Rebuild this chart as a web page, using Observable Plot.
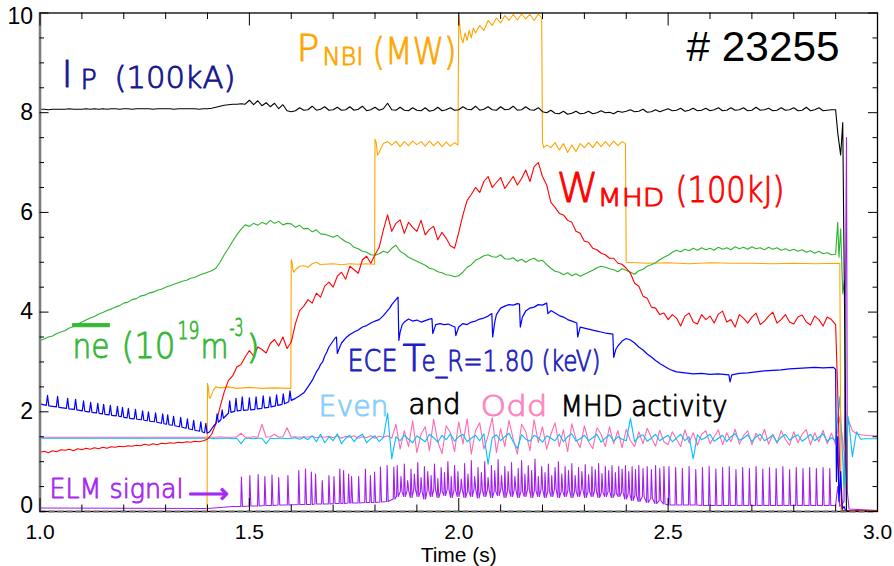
<!DOCTYPE html>
<html><head><meta charset="utf-8">
<script src="https://cdn.jsdelivr.net/npm/d3@7"></script>
<script src="https://cdn.jsdelivr.net/npm/@observablehq/plot@0.6"></script>
<style>body{margin:0;background:#fff}</style>
</head><body><div id="chart"></div>
<script>
// ---------- data ----------
const xMajor = [1.0, 1.5, 2.0, 2.5, 3.0];
const xMinor = [1.1,1.2,1.3,1.4,1.6,1.7,1.8,1.9,2.1,2.2,2.3,2.4,2.6,2.7,2.8,2.9];
const yMajor = [0, 2, 4, 6, 8, 10];
const yMinor = [0.5,1,1.5,2.5,3,3.5,4.5,5,5.5,6.5,7,7.5,8.5,9,9.5];

// signals sampled every 0.01 s starting at 1.00 s
const ipVals = [
8.07,8.07,8.06,8.07,8.07,8.07,8.07,8.08,8.07,8.07,
8.07,8.08,8.07,8.08,8.07,8.08,8.07,8.08,8.08,8.07,
8.08,8.08,8.07,8.08,8.08,8.08,8.08,8.07,8.08,8.08,
8.08,8.08,8.07,8.08,8.08,8.08,8.08,8.08,8.07,8.08,
8.08,8.09,8.11,8.13,8.15,8.16,8.17,8.17,8.18,8.17,
8.25,8.16,8.24,8.14,8.20,8.12,8.19,8.08,8.16,8.04,
8.02,8.04,8.10,8.05,8.06,8.13,8.05,8.07,8.12,8.05,
8.06,8.11,8.05,8.06,8.12,8.05,8.07,8.13,8.04,8.06,
8.11,8.05,8.08,8.19,8.06,8.05,8.11,8.05,8.04,8.10,
8.05,8.04,8.10,8.03,8.05,8.11,8.04,8.06,8.10,8.05,
8.06,8.12,8.07,8.06,8.13,8.05,8.07,8.12,8.06,8.05,
8.12,8.06,8.07,8.13,8.05,8.06,8.12,8.06,8.05,8.10,
8.02,8.00,8.05,7.99,7.98,8.03,7.97,7.99,8.03,7.98,
7.99,8.03,7.98,8.00,8.04,8.00,8.01,7.98,8.03,8.01,
8.03,8.06,8.02,8.03,8.07,8.01,8.02,8.06,8.02,8.05,
8.08,8.04,8.05,8.09,8.03,8.05,8.09,8.04,8.05,8.09,
8.04,8.06,8.10,8.04,8.05,8.10,8.05,8.06,8.10,8.04,
8.05,8.11,8.05,8.06,8.09,8.04,8.05,8.10,8.05,8.06,
8.10,8.04,8.05,8.11,8.04,8.06,8.10,8.04,8.05,8.06,
8.06];
const ipTailT = [2.905, 2.912, 2.917, 2.926, 3.0];
const ipTailV = [7.6, 7.15, 7.8, 0.0, 0.0];

const wmhdVals = [
1.19,1.21,1.18,1.22,1.20,1.24,1.23,1.25,1.22,1.26,
1.24,1.27,1.25,1.28,1.26,1.29,1.27,1.30,1.29,1.31,
1.30,1.32,1.31,1.33,1.32,1.35,1.33,1.36,1.34,1.37,
1.36,1.38,1.37,1.39,1.38,1.40,1.39,1.41,1.40,1.42,
1.45,1.55,1.76,2.10,2.40,2.63,2.72,2.90,2.95,3.10,
3.23,3.12,3.30,3.25,3.18,3.37,3.45,3.32,3.50,3.27,
3.40,3.77,4.03,4.12,4.25,4.18,4.38,4.30,4.52,4.60,
4.50,4.72,4.80,4.66,4.92,4.85,4.78,5.05,5.12,4.98,
5.15,5.30,5.65,5.95,5.62,5.78,5.85,5.58,5.80,5.70,
5.62,5.84,5.55,5.66,5.72,5.45,5.60,5.48,5.33,5.28,
5.60,5.95,6.24,6.36,6.50,6.40,6.62,6.72,6.50,6.60,
6.70,6.48,6.60,6.72,6.55,6.68,6.85,6.62,6.92,7.00,
6.72,6.55,6.20,6.10,5.98,5.95,5.84,5.80,5.62,5.58,
5.42,5.40,5.28,5.25,5.18,5.15,5.08,5.08,4.98,4.96,
4.88,4.78,4.58,4.52,4.32,4.28,4.10,4.08,3.95,3.98,
3.85,3.95,3.88,3.72,3.92,3.98,3.80,3.76,3.95,3.85,
3.92,3.78,3.96,4.02,3.80,3.85,3.70,3.95,3.88,3.78,
3.90,3.98,3.75,3.82,3.92,4.00,3.78,3.85,3.95,3.80,
3.76,3.90,3.94,3.80,3.74,3.92,3.85,3.72,3.90,3.85,
3.75];
const wmhdTailT = [2.905, 2.910, 2.916, 3.0];
const wmhdTailV = [2.4, 0.8, 0.02, 0.02];

const neVals = [
3.43,3.46,3.50,3.52,3.57,3.60,3.63,3.68,3.71,3.76,
3.80,3.84,3.88,3.91,3.96,3.99,4.03,4.06,4.10,4.13,
4.18,4.20,4.25,4.27,4.32,4.34,4.38,4.40,4.44,4.46,
4.50,4.53,4.56,4.59,4.62,4.64,4.68,4.70,4.74,4.77,
4.80,4.83,4.88,5.00,5.15,5.28,5.42,5.55,5.66,5.75,
5.72,5.78,5.74,5.80,5.76,5.84,5.78,5.82,5.75,5.78,
5.77,5.70,5.74,5.67,5.68,5.61,5.65,5.57,5.56,5.53,
5.50,5.54,5.47,5.41,5.38,5.30,5.27,5.22,5.20,5.15,
5.14,5.17,5.22,5.19,5.28,5.34,5.22,5.17,5.10,5.06,
5.02,4.98,4.94,4.88,4.86,4.81,4.79,4.75,4.74,4.71,
4.73,4.80,4.90,4.95,5.04,5.08,5.13,5.15,5.11,5.10,
5.15,5.07,5.06,5.09,5.02,5.06,5.00,5.05,5.08,5.02,
5.04,4.95,4.88,4.82,4.80,4.75,4.79,4.73,4.77,4.72,
4.76,4.80,4.84,4.89,4.92,4.90,4.87,4.85,4.81,4.87,
4.84,4.80,4.76,4.83,4.86,4.92,4.95,4.99,5.05,5.10,
5.14,5.20,5.24,5.21,5.26,5.23,5.28,5.24,5.29,5.25,
5.28,5.24,5.30,5.26,5.29,5.25,5.31,5.27,5.30,5.26,
5.31,5.27,5.29,5.25,5.30,5.26,5.29,5.24,5.27,5.23,
5.26,5.22,5.25,5.20,5.23,5.18,5.22,5.17,5.19,5.15,
5.16];
const neTailT = [2.905, 2.908, 2.912, 2.917, 2.921, 2.926, 3.0];
const neTailV = [5.8, 5.1, 5.67, 4.37, 4.63, 0.02, 0.02];

// MHD pick-up coils, sampled every 0.01 s starting at 1.40 s
const evenVals = [
1.47,1.47,1.46,1.47,1.47,1.47,1.46,1.47,1.36,1.47,
1.47,1.46,1.47,1.47,1.36,1.47,1.46,1.47,1.47,1.46,
1.47,1.48,1.45,1.49,1.44,1.52,1.40,1.55,1.38,1.50,
1.42,1.56,1.36,1.47,1.53,1.40,1.50,1.55,1.38,1.46,
1.52,1.40,1.48,1.97,1.06,1.50,1.42,1.53,1.45,1.38,
1.52,1.46,1.40,1.55,1.48,1.39,1.53,1.44,1.56,1.41,
1.50,1.55,1.40,1.47,1.53,1.42,1.56,0.95,1.48,1.54,
1.42,1.50,1.57,1.40,1.26,1.54,1.45,1.41,1.53,1.48,
1.39,1.52,1.47,1.42,1.55,1.40,1.50,1.56,1.41,1.46,
1.53,1.42,1.48,1.55,1.39,1.47,1.54,1.41,1.50,1.45,
1.42,1.87,1.40,1.50,1.54,1.41,1.47,1.55,1.42,1.48,
1.53,1.40,1.47,1.55,1.42,1.50,1.06,1.54,1.44,1.49,
1.55,1.41,1.47,1.53,1.40,1.50,1.56,1.43,1.47,1.54,
1.40,1.50,1.55,1.42,1.47,1.53,1.39,1.49,1.55,1.43,
1.50,1.54,1.41,1.47,1.55,1.42,1.49,1.56,1.41,1.48,
1.42,2.30,0.50,1.90,1.10,1.60,1.45,1.46,1.46,1.46];
const oddVals = [
1.49,1.49,1.49,1.50,1.49,1.49,1.49,1.50,1.57,1.49,
1.49,1.50,1.49,1.75,1.49,1.50,1.55,1.49,1.50,1.68,
1.49,1.50,1.49,1.50,1.49,1.51,1.48,1.50,1.49,1.51,
1.48,1.52,1.47,1.51,1.49,1.52,1.47,1.50,1.48,1.52,
1.47,1.51,1.49,1.52,1.47,1.75,1.25,1.62,1.30,1.82,
1.18,1.55,1.70,1.22,1.85,1.40,1.16,1.72,1.58,1.20,
1.80,1.35,1.86,1.15,1.62,1.78,1.25,1.52,1.88,1.18,
1.66,1.30,1.83,1.45,1.15,1.75,1.60,1.22,1.84,1.38,
1.70,1.25,1.55,1.78,1.30,1.64,1.20,1.76,1.45,1.28,
1.72,1.40,1.26,1.68,1.55,1.30,1.70,1.36,1.62,1.28,
1.65,1.42,1.30,1.60,1.36,1.67,1.48,1.31,1.63,1.40,
1.34,1.60,1.45,1.30,1.64,1.38,1.58,1.33,1.55,1.62,
1.36,1.50,1.64,1.34,1.58,1.40,1.65,1.35,1.52,1.62,
1.34,1.57,1.42,1.65,1.35,1.55,1.37,1.62,1.45,1.33,
1.60,1.38,1.55,1.64,1.34,1.58,1.40,1.63,1.36,1.57,
1.35,1.90,1.20,1.85,1.62,1.56,1.54,1.53,1.52,1.52];

// NBI power (MW)
const pnbiT = [1.0,1.399,1.400,1.402,1.404,1.406,1.41,1.415,1.42,1.43,1.45,1.47,1.5,1.53,1.56,1.599,
1.600,1.602,1.604,1.607,1.61,1.62,1.63,1.64,1.65,1.66,1.67,1.68,1.7,1.72,1.74,1.76,1.78,1.799,
1.800,1.803,1.806,1.81,1.815,1.82,1.83,1.84,1.85,1.86,1.87,1.88,1.89,1.9,1.91,1.92,1.93,1.94,1.95,1.96,1.97,1.98,1.99,1.998,
2.000,2.003,2.006,2.01,2.015,2.02,2.025,2.03,2.035,2.04,2.05,2.06,2.07,2.08,2.09,2.1,2.11,2.12,2.13,2.14,2.15,2.16,2.17,2.18,2.19,2.198,
2.200,2.203,2.21,2.22,2.23,2.24,2.25,2.26,2.27,2.28,2.29,2.3,2.31,2.32,2.33,2.34,2.35,2.36,2.37,2.38,2.39,2.398,
2.400,2.45,2.5,2.55,2.6,2.65,2.7,2.75,2.8,2.85,2.91,2.913,3.0];
const pnbiV = [0,0,2.57,2.5,2.3,2.27,2.35,2.45,2.5,2.48,2.5,2.47,2.49,2.47,2.48,2.47,
5.05,5.0,4.85,4.8,4.85,4.92,4.93,4.9,4.97,5.0,4.95,4.96,4.97,4.95,4.97,4.96,4.97,4.96,
7.47,7.4,7.15,7.2,7.3,7.38,7.42,7.35,7.43,7.32,7.42,7.34,7.43,7.36,7.42,7.33,7.43,7.34,7.42,7.32,7.41,7.33,7.4,7.35,
9.98,9.7,9.5,9.4,9.6,9.45,9.65,9.5,9.7,9.6,9.75,9.65,9.85,9.75,9.9,9.8,9.95,9.85,9.97,9.86,9.98,9.88,9.97,9.85,9.98,9.9,
7.4,7.3,7.35,7.3,7.4,7.25,7.38,7.2,7.35,7.22,7.38,7.3,7.4,7.3,7.42,7.32,7.42,7.33,7.43,7.34,7.42,7.38,
5.0,4.98,4.99,4.97,4.99,4.98,4.98,4.97,4.98,4.97,4.98,0,0];

// ECE electron temperature (keV)
const teT = [1.000,
1.015,1.018,1.021, 1.039,1.042,1.045, 1.063,1.066,1.069, 1.082,1.085,1.088, 1.101,1.104,1.107,
1.118,1.121,1.124, 1.135,1.138,1.141, 1.149,1.152,1.155, 1.165,1.168,1.171, 1.182,1.185,1.188,
1.194,1.197,1.200, 1.208,1.211,1.214, 1.225,1.228,1.231, 1.242,1.245,1.248, 1.256,1.259,1.262,
1.273,1.276,1.279, 1.290,1.293,1.296, 1.302,1.305,1.308, 1.316,1.319,1.322, 1.333,1.336,1.339,
1.349,1.352,1.355, 1.364,1.367,1.370, 1.381,1.384,1.387, 1.393,1.396,1.399,
1.405,1.410,1.415,1.420,1.423,1.426,1.432,1.435,1.438,1.445,1.450,1.453,1.456,1.465,1.468,1.471,
1.480,1.483,1.486,1.497,1.500,1.503,1.513,1.516,1.519,1.530,1.533,1.536,1.546,1.549,1.552,
1.562,1.565,1.568,1.578,1.581,1.584,1.594,1.597,1.600,
1.61,1.62,1.63,1.64,1.65,1.66,1.665,1.67,1.675,1.68,1.685,1.69,1.695,1.70,1.705,1.708,1.710,1.715,
1.72,1.73,1.74,1.75,1.76,1.77,1.78,1.79,1.80,1.81,1.82,1.825,1.83,1.835,1.84,1.845,1.85,1.855,1.857,
1.86,1.865,1.87,1.88,1.89,1.90,1.91,1.92,1.93,1.936,1.938,1.945,1.955,1.965,1.975,1.985,1.991,1.993,
2.0,2.01,2.02,2.03,2.04,2.05,2.06,2.07,2.079,2.081,2.086,2.09,2.10,2.11,2.12,2.13,2.14,2.145,2.147,
2.152,2.16,2.17,2.18,2.19,2.20,2.21,2.213,2.22,2.23,2.24,2.25,2.26,2.27,2.282,2.284,2.29,2.30,2.31,
2.32,2.33,2.34,2.35,2.36,2.368,2.370,2.375,2.38,2.39,2.40,2.41,2.42,2.43,2.44,2.45,2.46,2.47,2.48,
2.49,2.50,2.51,2.52,2.54,2.56,2.58,2.60,2.62,2.645,2.648,2.652,2.67,2.69,2.71,2.73,2.75,2.77,2.79,
2.81,2.83,2.85,2.87,2.895,2.900,2.902,2.905,2.908,2.912,2.916,2.92,2.925,3.0];
const teV = [2.16,
2.13,2.33,2.12, 2.10,2.31,2.09, 2.07,2.27,2.06, 2.05,2.25,2.04, 2.02,2.22,2.01,
2.00,2.19,1.99, 1.98,2.17,1.97, 1.96,2.15,1.95, 1.94,2.13,1.93, 1.92,2.11,1.91,
1.90,2.09,1.89, 1.88,2.07,1.87, 1.86,2.05,1.85, 1.84,2.02,1.83, 1.82,2.00,1.81,
1.80,1.98,1.79, 1.77,1.96,1.76, 1.75,1.94,1.74, 1.73,1.91,1.72, 1.70,1.89,1.69,
1.67,1.86,1.66, 1.64,1.83,1.63, 1.61,1.80,1.60, 1.58,1.77,1.57,
1.60,1.66,1.72,1.76,1.96,1.79,1.84,2.04,1.87,1.93,1.97,2.22,1.99,2.01,2.27,2.02,
2.03,2.30,2.03,2.04,2.28,2.04,2.05,2.30,2.06,2.07,2.32,2.08,2.09,2.30,2.10,
2.12,2.34,2.13,2.15,2.36,2.16,2.20,2.42,2.23,
2.27,2.32,2.38,2.50,2.63,2.80,2.86,2.95,3.00,3.12,3.20,3.30,3.36,3.42,3.48,3.50,3.17,3.28,
3.38,3.48,3.55,3.60,3.64,3.70,3.73,3.78,3.82,3.85,3.93,3.98,4.03,4.08,4.15,4.20,4.25,4.30,3.43,
3.60,3.75,3.80,3.86,3.82,3.84,3.80,3.83,3.86,3.87,3.57,3.75,3.77,3.75,3.76,3.72,3.70,3.53,
3.70,3.77,3.75,3.80,3.82,3.86,3.88,3.92,3.97,3.50,3.80,3.95,4.08,4.12,4.15,4.14,4.17,4.16,3.70,
3.90,4.02,4.08,4.10,4.15,4.14,4.18,3.97,4.03,3.98,3.93,3.90,3.85,3.82,3.78,3.50,3.70,3.68,3.66,
3.64,3.62,3.60,3.58,3.57,3.56,3.09,3.25,3.32,3.42,3.47,3.44,3.38,3.30,3.24,3.16,3.10,3.03,2.97,
2.92,2.87,2.83,2.80,2.78,2.76,2.77,2.75,2.76,2.74,2.60,2.74,2.77,2.78,2.80,2.82,2.83,2.84,2.86,
2.87,2.88,2.89,2.88,2.89,2.85,0.60,1.50,0.20,0.80,0.05,0.10,0.0,0.0];

// ELM (D-alpha) signal: quiet part, then spikes (time, peak, floor)
const elmPreT = [1.0, 1.40, 1.43, 1.46];
const elmPreV = [0.07, 0.06, 0.08, 0.10];
const elmT = [1.481,1.501,1.521,1.537,1.554,1.570,1.592,1.618,1.634,1.648,1.658,1.674,1.690,1.702,1.716,1.725,
1.737,1.744,1.761,1.777,1.789,1.799,1.813,1.829,1.845,1.853,
1.862,1.870,1.878,1.886,1.894,1.902,1.910,1.918,1.926,1.934,1.942,1.950,1.958,1.966,1.974,1.982,1.990,1.998,
2.006,2.014,2.022,2.030,2.038,2.046,2.054,2.062,2.070,2.078,2.086,2.094,2.102,2.110,2.118,2.126,2.134,2.142,
2.150,2.158,2.166,2.174,2.182,2.190,2.198,2.206,2.214,2.222,2.230,2.238,2.246,2.254,2.262,2.270,2.278,2.286,
2.294,2.302,2.310,2.318,2.326,2.334,2.342,2.350,2.358,2.366,2.374,2.382,2.390,2.398,2.406,2.414,2.422,2.430,
2.440,2.450,2.460,2.470,2.480,2.490,
2.502,2.518,2.534,2.550,2.566,2.582,2.598,2.614,2.630,2.646,2.662,2.678,2.694,2.710,2.726,2.742,2.758,2.774,
2.790,2.806,2.822,2.838,2.854,2.870,2.886];
const elmPeak = [0.69,0.72,0.74,0.70,0.73,0.68,0.72,0.82,0.85,0.79,0.75,0.62,0.72,0.70,0.85,0.82,
0.75,0.70,0.70,0.85,0.72,0.79,0.89,0.92,0.89,0.92,
0.70,0.95,0.62,0.85,0.75,0.98,0.68,0.90,0.80,0.72,0.95,0.66,0.88,0.78,1.00,0.70,0.92,0.80,
0.65,0.96,0.75,1.02,0.70,0.88,0.78,1.00,0.68,0.92,0.82,1.04,0.72,0.90,0.80,0.98,0.70,0.86,
1.02,0.75,0.92,0.82,1.05,0.70,0.90,0.78,0.95,0.72,0.88,1.00,0.75,0.90,0.82,0.96,0.72,0.88,
0.80,0.94,0.74,0.90,0.84,0.96,0.76,0.90,0.82,0.92,0.78,0.90,0.85,0.92,0.80,0.90,0.84,0.92,
0.86,0.90,0.84,0.92,0.86,0.90,
0.90,0.88,0.86,0.90,0.84,0.88,0.90,0.85,0.88,0.90,0.84,0.88,0.86,0.90,0.85,0.88,0.86,0.90,
0.84,0.88,0.86,0.88,0.86,0.88,0.86];
const elmLow = [0.10,0.11,0.11,0.12,0.12,0.13,0.13,0.14,0.14,0.14,0.15,0.15,0.15,0.16,0.16,0.16,
0.17,0.17,0.17,0.18,0.18,0.18,0.19,0.20,0.25,0.30,
0.40,0.30,0.42,0.28,0.45,0.30,0.40,0.25,0.42,0.30,0.45,0.28,0.40,0.32,0.45,0.28,0.42,0.30,
0.44,0.28,0.40,0.30,0.45,0.27,0.42,0.30,0.44,0.28,0.40,0.32,0.45,0.28,0.42,0.30,0.44,0.28,
0.40,0.30,0.45,0.28,0.42,0.30,0.44,0.28,0.40,0.30,0.45,0.28,0.40,0.30,0.42,0.28,0.40,0.30,
0.44,0.28,0.40,0.30,0.42,0.28,0.38,0.30,0.40,0.28,0.36,0.30,0.38,0.25,0.35,0.22,0.32,0.20,
0.30,0.18,0.26,0.16,0.22,0.15,
0.13,0.13,0.13,0.13,0.13,0.12,0.12,0.12,0.12,0.12,0.12,0.12,0.12,0.12,0.12,0.12,0.12,0.12,
0.12,0.12,0.12,0.12,0.12,0.12,0.12];
const elmPostT = [2.900, 2.905, 2.910, 2.920, 2.926, 2.928, 2.932, 3.0];
const elmPostV = [0.12, 0.50, 0.10, 0.20, 7.50, 0.40, 0.05, 0.02];

// ---------- build tables ----------
const step = (t0, vals) => vals.map((v, i) => ({t: +(t0 + i * 0.01).toFixed(3), v}));
const pairs = (T, V) => T.map((t, i) => ({t, v: V[i]}));

const ip = [...step(1.0, ipVals), ...pairs(ipTailT, ipTailV)];
const wmhd = [...step(1.0, wmhdVals), ...pairs(wmhdTailT, wmhdTailV)];
const ne = [...step(1.0, neVals), ...pairs(neTailT, neTailV)];
const even = [{t: 1.0, v: 1.47}, ...step(1.4, evenVals), {t: 3.0, v: 1.46}];
const odd = [{t: 1.0, v: 1.49}, ...step(1.4, oddVals), {t: 3.0, v: 1.52}];
const pnbi = pairs(pnbiT, pnbiV);
const te = pairs(teT, teV);
const elm = [...pairs(elmPreT, elmPreV)];
elmT.forEach((t, i) => {
  elm.push({t: t - 0.0015, v: elmLow[i]});
  elm.push({t, v: elmPeak[i]});
  elm.push({t: t + 0.0025, v: elmLow[i]});
});
elm.push(...pairs(elmPostT, elmPostV));

// ---------- layout ----------
const W = 894, H = 566, ML = 39.5, MR = 17, MT = 12.5, MB = 55;
const kx = (W - ML - MR) / 2;     // px per second
const ky = (H - MT - MB) / 10;    // px per unit
const SANS = "DejaVu Sans";
const HELV = "Liberation Sans";

const labels = [
  {t: "I", x: 61, y: 86, s: 38, c: "#16168f"},
  {t: "P", x: 80, y: 88, s: 27, c: "#16168f"},
  {t: "(100kA)", x: 114, y: 87, s: 30, c: "#16168f", w: 121},
  {t: "P", x: 296, y: 60, s: 38, c: "#ffa500"},
  {t: "NBI", x: 322, y: 64, s: 25, c: "#ffa500", w: 41},
  {t: "(MW)", x: 372, y: 63, s: 38, c: "#ffa500", w: 84},
  {t: "# 23255", x: 686, y: 60, s: 42, c: "#000", w: 153, f: HELV},
  {t: "W", x: 556, y: 201, s: 41, c: "#ff0000", w: 42},
  {t: "MHD", x: 597, y: 205, s: 25, c: "#ff0000", w: 67},
  {t: "(100kJ)", x: 675, y: 201, s: 36, c: "#ff0000", w: 109},
  {t: "ne", x: 72, y: 357, s: 33, c: "#33b833", w: 37},
  {t: "(10", x: 121, y: 357, s: 36, c: "#33b833", w: 54},
  {t: "19", x: 177, y: 338, s: 24, c: "#33b833", w: 22},
  {t: "m", x: 200, y: 357, s: 34, c: "#33b833", w: 28},
  {t: "-3", x: 229, y: 335, s: 24, c: "#33b833", w: 14},
  {t: ")", x: 246, y: 358, s: 34, c: "#33b833"},
  {t: "ECE", x: 347, y: 370, s: 30, c: "#2020c0", w: 50},
  {t: "T", x: 402, y: 370, s: 38, c: "#2020c0"},
  {t: "e_R=1.80 (keV)", x: 421, y: 370, s: 29, c: "#2020c0", w: 179},
  {t: "Even", x: 318, y: 415, s: 28, c: "#87cefa", w: 70},
  {t: "and", x: 408, y: 413, s: 28, c: "#000", w: 52},
  {t: "Odd", x: 480, y: 415, s: 29, c: "#ff85c0", w: 67},
  {t: "MHD activity", x: 560, y: 415, s: 28, c: "#000", w: 167},
  {t: "ELM signal", x: 49, y: 497, s: 27, c: "#a52af0", w: 134},
  {t: "\u27F6", x: 187, y: 502, s: 28, c: "#a52af0", w: 41}
];

const line = (data, stroke, sw = 1.1) => Plot.line(data, {x: "t", y: "v", stroke, strokeWidth: sw, curve: "linear"});

const plot = Plot.plot({
  width: W, height: H,
  marginLeft: ML, marginRight: MR, marginTop: MT, marginBottom: MB,
  x: {domain: [1, 3], axis: null},
  y: {domain: [0, 10], axis: null},
  style: {background: "#fff"},
  marks: [
    line(elm, "#a020f0"),
    line(odd, "#ff69b4"),
    line(even, "#00bfff"),
    line(pnbi, "#ffa500"),
    line(ne, "#2db42d"),
    line(wmhd, "#ff0000"),
    line(te, "#0000ff", 1.2),
    line(ip, "#000000"),
    // frame and ticks
    Plot.frame({stroke: "#000", strokeWidth: 1.3}),
    Plot.ruleX([1], {stroke: "#7d7d7d", strokeWidth: 2.6}),
    Plot.ruleY([0], {stroke: "#6e6e6e", strokeWidth: 2, strokeDasharray: "6,3"}),
    Plot.ruleX(xMajor, {x: d => d, y1: 10, y2: 10 - 13 / ky, stroke: "#000"}),
    Plot.ruleX(xMinor, {x: d => d, y1: 10, y2: 10 - 6.5 / ky, stroke: "#000"}),
    Plot.ruleX(xMajor, {x: d => d, y1: 0, y2: 13 / ky, stroke: "#000"}),
    Plot.ruleX(xMinor, {x: d => d, y1: 0, y2: 6.5 / ky, stroke: "#000"}),
    Plot.ruleY(yMajor, {y: d => d, x1: 1, x2: 1 + 9 / kx, stroke: "#000"}),
    Plot.ruleY(yMinor, {y: d => d, x1: 1, x2: 1 + 4.5 / kx, stroke: "#000"}),
    Plot.ruleY(yMajor, {y: d => d, x1: 3, x2: 3 - 9 / kx, stroke: "#000"}),
    Plot.ruleY(yMinor, {y: d => d, x1: 3, x2: 3 - 4.5 / kx, stroke: "#000"}),
    // tick labels
    Plot.text(xMajor, {x: d => d, y: 0, dy: 21, text: d => d3.format(".1f")(d), fontSize: 21, fontFamily: HELV, fill: "#000"}),
    Plot.text(yMajor.filter(d => d > 0 && d < 10), {x: 1, y: d => d, dx: -7, text: d => String(d), textAnchor: "end", fontSize: 23, fontFamily: HELV, fill: "#000"}),
    Plot.text([10], {x: 1, y: d => d, dx: -7, dy: 4, text: d => String(d), textAnchor: "end", fontSize: 23, fontFamily: HELV, fill: "#000"}),
    Plot.text([0], {x: 1, y: d => d, dx: -7, dy: -6, text: d => String(d), textAnchor: "end", fontSize: 23, fontFamily: HELV, fill: "#000"}),
    Plot.text(["Time (s)"], {x: 2, y: 0, dy: 44, text: d => d, fontSize: 21, fontFamily: HELV, fill: "#000"}),
    // series labels (light face thickened slightly with a same-colour stroke)
    ...labels.map(l => Plot.text([l.t], {
      frameAnchor: "top-left", dx: l.x - ML, dy: l.y - MT, text: d => d,
      textAnchor: "start", lineAnchor: "bottom", fontSize: l.s,
      fontFamily: l.f || SANS, fontWeight: l.f ? 400 : 200, fill: l.c,
      stroke: l.f ? null : l.c, strokeWidth: l.f ? null : 0.9
    }))
  ]
});

// fit label widths to the reference and add the overline on n_e
const widths = new Map(labels.filter(l => l.w).map(l => [l.t, l.w]));
plot.querySelectorAll("text").forEach(el => {
  const w = widths.get(el.textContent);
  if (w) { el.setAttribute("textLength", w); el.setAttribute("lengthAdjust", "spacingAndGlyphs"); }
  if (el.textContent === "ne") el.style.textDecoration = "overline";
});
document.getElementById("chart").appendChild(plot);
</script>
</body></html>
